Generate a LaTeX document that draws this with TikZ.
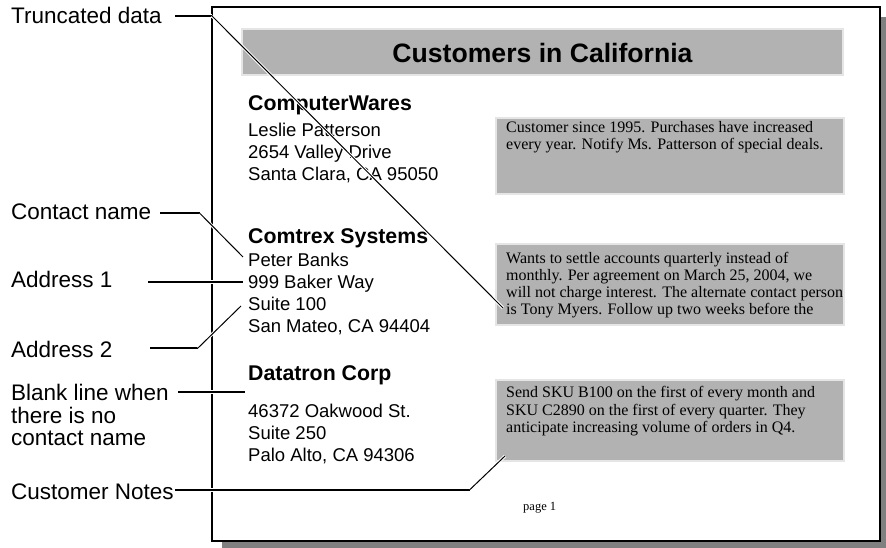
\documentclass[tikz,border=0pt]{standalone}
\usepackage{fontspec}
\setmainfont{Liberation Serif}
\setsansfont{Liberation Sans}

\begin{document}
\begin{tikzpicture}[x=1pt, y=-1pt,
    lbl/.style={font=\sffamily\fontsize{22.5}{24}\selectfont, anchor=base west, inner sep=0pt},
    addr/.style={font=\sffamily\fontsize{18.5}{22}\selectfont, anchor=base west, inner sep=0pt},
    firm/.style={font=\sffamily\bfseries\fontsize{21.3}{24}\selectfont, anchor=base west, inner sep=0pt},
    note/.style={font=\fontsize{16}{17}\selectfont, anchor=base west, inner sep=0pt},
    graybar/.style={fill=black!30, draw=black!10, line width=2pt, inner sep=0pt},
    lead/.style={line width=2pt, preaction={draw=white, line width=4pt}},
    diag/.style={line width=1pt, preaction={draw=white, line width=3pt}}]
    \useasboundingbox (0,0) rectangle (886,548);

    % Page with shadow
    \fill[black!50] (222,17) rectangle (886,548);
    \draw[line width=2pt, fill=white] (212,7) rectangle (880,540.5);

    % Report header
    \node[graybar, minimum width=601pt, minimum height=46pt,
          font=\sffamily\bfseries\fontsize{26.6}{30}\selectfont] (title) at (542.5,52.5) {Customers in California};

    % Note boxes
    \node[graybar, anchor=north west, minimum width=348pt, minimum height=76pt] (box1) at (495,117) {};
    \node[graybar, anchor=north west, minimum width=348pt, minimum height=81pt] (box2) at (495,243) {};
    \node[graybar, anchor=north west, minimum width=348pt, minimum height=81pt] (box3) at (495,379) {};

    % First customer
    \node[firm] (firm1) at (248,111) {ComputerWares};
    \node[addr] (name1) at (248,137) {Leslie Patterson};
    \node[addr] (street1) at (248,159) {2654 Valley Drive};
    \node[addr] (city1) at (248,181) {Santa Clara, CA 95050};
    \node[note] (note1a) at (506,133) {Customer since 1995. Purchases have increased};
    \node[note] (note1b) at (506,150) {every year. Notify Ms. Patterson of special deals.};

    % Second customer
    \node[firm] (firm2) at (248,243.5) {Comtrex Systems};
    \node[addr] (name2) at (248,266) {Peter Banks};
    \node[addr] (street2) at (248,288) {999 Baker Way};
    \node[addr] (suite2) at (248,310) {Suite 100};
    \node[addr] (city2) at (248,332) {San Mateo, CA 94404};
    \node[note] (note2a) at (506,263) {Wants to settle accounts quarterly instead of};
    \node[note] (note2b) at (506,280) {monthly. Per agreement on March 25, 2004, we};
    \node[note] (note2c) at (506,297) {will not charge interest. The alternate contact person};
    \node[note] (note2d) at (506,314) {is Tony Myers. Follow up two weeks before the};

    % Third customer (no contact name)
    \node[firm] (firm3) at (248,380) {Datatron Corp};
    \node[addr] (street3) at (248,417) {46372 Oakwood St.};
    \node[addr] (suite3) at (248,439) {Suite 250};
    \node[addr] (city3) at (248,461) {Palo Alto, CA 94306};
    \node[note] (note3a) at (506,397.5) {Send SKU B100 on the first of every month and};
    \node[note] (note3b) at (506,415) {SKU C2890 on the first of every quarter. They};
    \node[note] (note3c) at (506,432) {anticipate increasing volume of orders in Q4.};

    \node[note, font=\fontsize{12.5}{14}\selectfont] (pagenum) at (523,510) {page 1};

    % Callout labels
    \node[lbl] (lbtrunc) at (11,24) {Truncated data};
    \node[lbl] (lbcontact) at (11,220) {Contact name};
    \node[lbl] (lbaddr1) at (11,287) {Address 1};
    \node[lbl] (lbaddr2) at (11,357) {Address 2};
    \node[lbl] (lbblank) at (11,400.5) {Blank line when};
    \node[lbl] (lbblankb) at (11,423) {there is no};
    \node[lbl] (lbblankc) at (11,445.5) {contact name};
    \node[lbl] (lbnotes) at (11,499.5) {Customer Notes};

    % Callout line points
    \coordinate (trunc0) at (175,16);
    \coordinate (trunc1) at (212,16);
    \coordinate (trunc2) at (503,308);
    \coordinate (contact0) at (160,213.5);
    \coordinate (contact1) at (200,213.5);
    \coordinate (contact2) at (243,257);
    \coordinate (addr10) at (148,282);
    \coordinate (addr11) at (243,282);
    \coordinate (addr20) at (150,348);
    \coordinate (addr21) at (198,348);
    \coordinate (addr22) at (241,306);
    \coordinate (blank0) at (178,392);
    \coordinate (blank1) at (245,392);
    \coordinate (notes0) at (175,489.5);
    \coordinate (notes1) at (470,489.5);
    \coordinate (notes2) at (505,456);

    % Callout lines
    \draw[lead] (trunc0) -- (trunc1);
    \draw[diag] (trunc1) -- (trunc2);
    \draw[lead] (contact0) -- (contact1);
    \draw[diag] (contact1) -- (contact2);
    \draw[lead] (addr10) -- (addr11);
    \draw[lead] (addr20) -- (addr21);
    \draw[diag] (addr21) -- (addr22);
    \draw[lead] (blank0) -- (blank1);
    \draw[lead] (notes0) -- (notes1);
    \draw[diag] (notes1) -- (notes2);
\end{tikzpicture}
\end{document}
